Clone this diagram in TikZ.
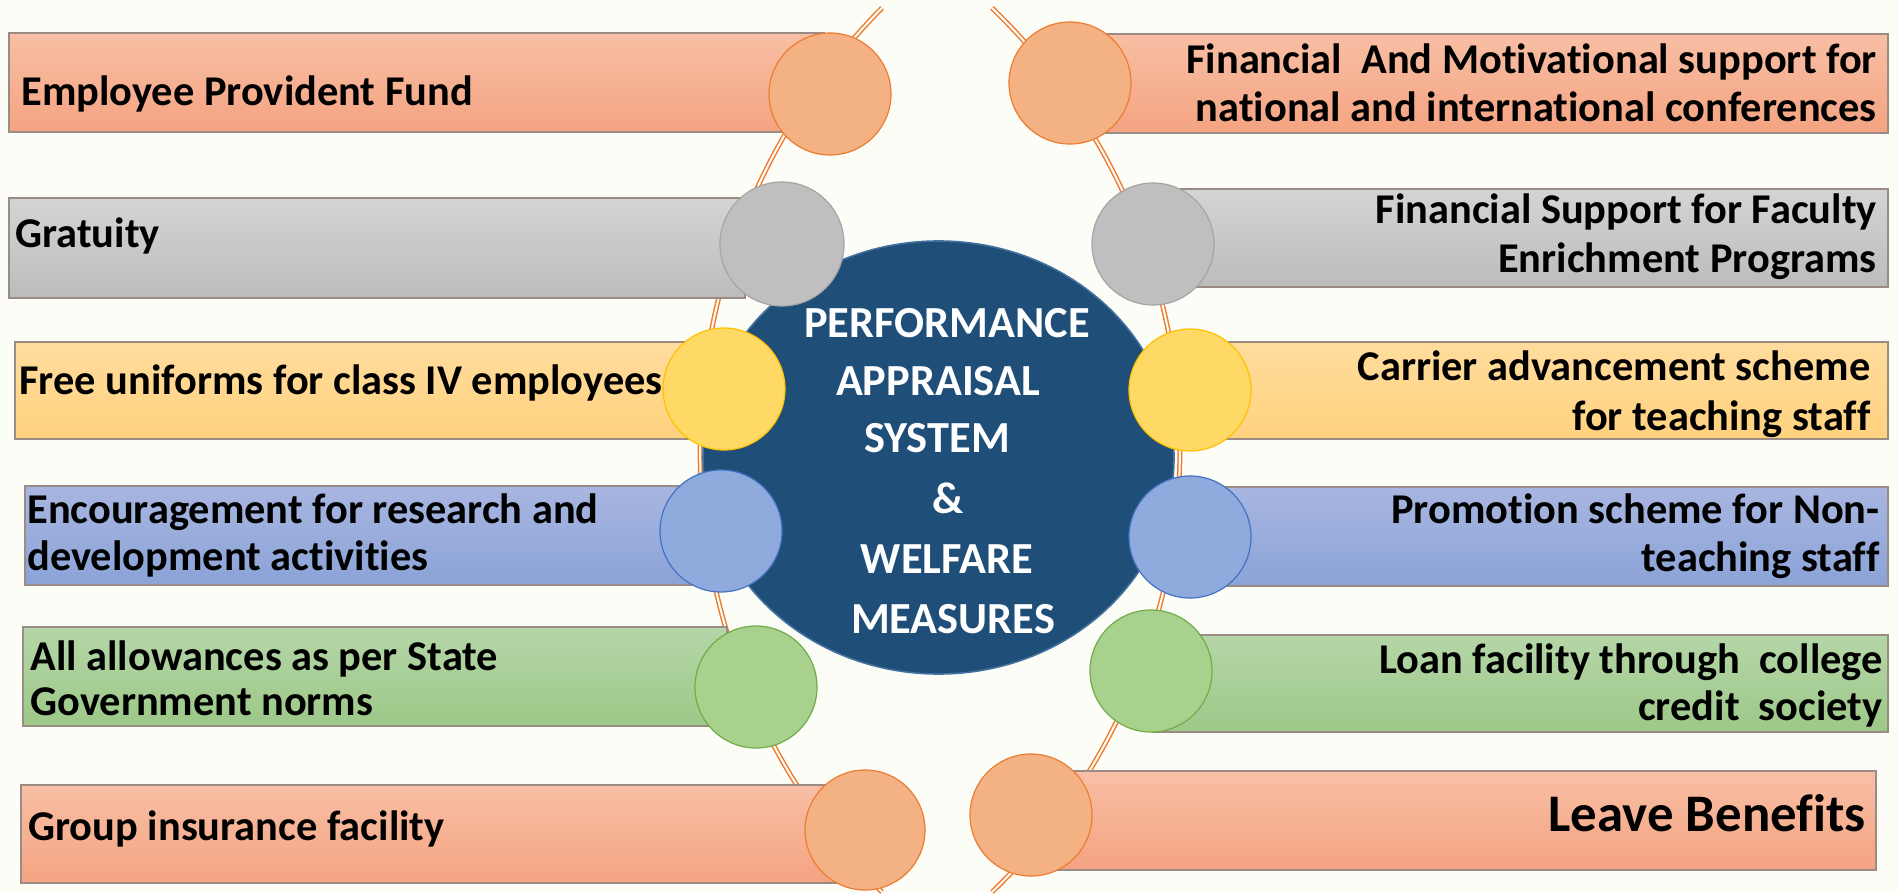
\documentclass[tikz,border=0pt]{standalone}
\usepackage{fontspec}
\setmainfont{Carlito}[Ligatures=NoCommon]
\usetikzlibrary{shapes.geometric}
\definecolor{bgc}{HTML}{FDFDF8}
\definecolor{boxline}{HTML}{9A8C84}
\definecolor{ropec}{HTML}{ED7D31}
\definecolor{hubc}{HTML}{1F4E79}
\definecolor{hubline}{HTML}{41719C}
\definecolor{orT}{HTML}{F8BFA5}\definecolor{orB}{HTML}{F4A381}
\definecolor{grT}{HTML}{D4D4D4}\definecolor{grB}{HTML}{BCBCBC}
\definecolor{yeT}{HTML}{FFDC9E}\definecolor{yeB}{HTML}{FFD27E}
\definecolor{blT}{HTML}{A8B6E0}\definecolor{blB}{HTML}{8BA3D8}
\definecolor{gnT}{HTML}{B5D6A8}\definecolor{gnB}{HTML}{9DC888}
\definecolor{orF}{HTML}{F4B183}\definecolor{orD}{HTML}{ED7D31}
\definecolor{grF}{HTML}{BFBFBF}\definecolor{grD}{HTML}{A5A5A5}
\definecolor{yeF}{HTML}{FFD966}\definecolor{yeD}{HTML}{FFC000}
\definecolor{blF}{HTML}{8FAADC}\definecolor{blD}{HTML}{4472C4}
\definecolor{gnF}{HTML}{A9D18E}\definecolor{gnD}{HTML}{70AD47}
\begin{document}
\begin{tikzpicture}[x=0.5pt,y=-0.5pt,
  box/.style={draw=boxline, line width=0.8pt},
  dot/.style={circle, minimum size=61pt, inner sep=0pt, line width=0.6pt},
  ltxt/.style={anchor=base west, inner sep=0pt, font=\fontsize{21.2}{25}\selectfont\bfseries},
  rtxt/.style={anchor=base east, inner sep=0pt, font=\fontsize{21.2}{25}\selectfont\bfseries},
  ctxt/.style={anchor=base, inner sep=0pt, text=white, font=\fontsize{22.2}{27}\selectfont\bfseries},
  rope/.style={draw=ropec, line width=0.75pt, double=bgc, double distance=1pt}]
\fill[bgc] (0,0) rectangle (1898,893);
\useasboundingbox (0,0) rectangle (1898,893);
% arcs
\draw[rope] (882,8) arc[start angle=135.26, end angle=224.74, radius=314pt];
\draw[rope] (992,8) arc[start angle=46.05, end angle=-46.05, radius=307pt];
% hub
\node[ellipse, minimum width=235.5pt, minimum height=216.5pt, fill=hubc, draw=hubline, line width=0.8pt] (hub) at (938.5,457.5) {};
\node[ctxt] (h1) at (947,337) {PERFORMANCE};
\node[ctxt] (h2) at (938,395) {APPRAISAL};
\node[ctxt] (h3) at (937,452) {SYSTEM};
\node[ctxt] (h4) at (948,513) {\&};
\node[ctxt] (h5) at (947,573) {WELFARE};
\node[ctxt] (h6) at (953,633) {MEASURES};
% left boxes
\draw[box, top color=orT, bottom color=orB] (9,33) rectangle (824,132);
\draw[box, top color=grT, bottom color=grB] (9,198) rectangle (745,298);
\draw[box, top color=yeT, bottom color=yeB] (15,342) rectangle (697,439);
\draw[box, top color=blT, bottom color=blB] (25,486) rectangle (697,585);
\draw[box, top color=gnT, bottom color=gnB] (23,627) rectangle (727,726);
\draw[box, top color=orT, bottom color=orB] (21,785) rectangle (836,883);
% right boxes
\draw[box, top color=orT, bottom color=orB] (1095,34) rectangle (1888,133);
\draw[box, top color=grT, bottom color=grB] (1150,189) rectangle (1888,287);
\draw[box, top color=yeT, bottom color=yeB] (1225,342) rectangle (1888,439);
\draw[box, top color=blT, bottom color=blB] (1222,487) rectangle (1888,586);
\draw[box, top color=gnT, bottom color=gnB] (1153,635) rectangle (1888,732);
\draw[box, top color=orT, bottom color=orB] (1050,771) rectangle (1876,870);
% left texts
\node[ltxt] (l1) at (21,106) {Employee Provident Fund};
\node[ltxt] (l2) at (15,248) {Gratuity};
\node[ltxt] (l3) at (19,394) {Free uniforms for class IV employees};
\node[ltxt] (l4a) at (27,523) {Encouragement for research and};
\node[ltxt] (l4b) at (27,570) {development activities};
\node[ltxt] (l5a) at (30,670) {All allowances as per State};
\node[ltxt] (l5b) at (30,715) {Government norms};
\node[ltxt] (l6) at (28,840) {Group insurance facility};
% right texts
\node[rtxt] (r1a) at (1877,74) {Financial\ \ And Motivational support for};
\node[rtxt] (r1b) at (1877,122) {national and international conferences};
\node[rtxt] (r2a) at (1877,223) {Financial Support for Faculty};
\node[rtxt] (r2b) at (1877,272) {Enrichment Programs};
\node[rtxt] (r3a) at (1871,380) {Carrier advancement scheme};
\node[rtxt] (r3b) at (1871,430) {for teaching staff};
\node[rtxt] (r4a) at (1880,523) {Promotion scheme for Non-};
\node[rtxt] (r4b) at (1880,571) {teaching staff};
\node[rtxt] (r5a) at (1883,673) {Loan facility through\ \ college};
\node[rtxt] (r5b) at (1883,720) {credit\ \ society};
\node[rtxt, font=\fontsize{26.4}{31}\selectfont\bfseries] (r6) at (1866,831) {Leave Benefits};
% circles
\node[dot, fill=orF, draw=orD] (c1) at (830,94) {};
\node[dot, fill=grF, draw=grD, minimum size=62pt] (c2) at (782,244) {};
\node[dot, fill=yeF, draw=yeD] (c3) at (724,389) {};
\node[dot, fill=blF, draw=blD] (c4) at (721,531) {};
\node[dot, fill=gnF, draw=gnD] (c5) at (756,687) {};
\node[dot, fill=orF, draw=orD, minimum size=60pt] (c6) at (865,830) {};
\node[dot, fill=orF, draw=orD] (d1) at (1070,83) {};
\node[dot, fill=grF, draw=grD] (d2) at (1153,244) {};
\node[dot, fill=yeF, draw=yeD] (d3) at (1190,390) {};
\node[dot, fill=blF, draw=blD] (d4) at (1190,537) {};
\node[dot, fill=gnF, draw=gnD] (d5) at (1151,671) {};
\node[dot, fill=orF, draw=orD] (d6) at (1031,815) {};
\end{tikzpicture}
\end{document}
